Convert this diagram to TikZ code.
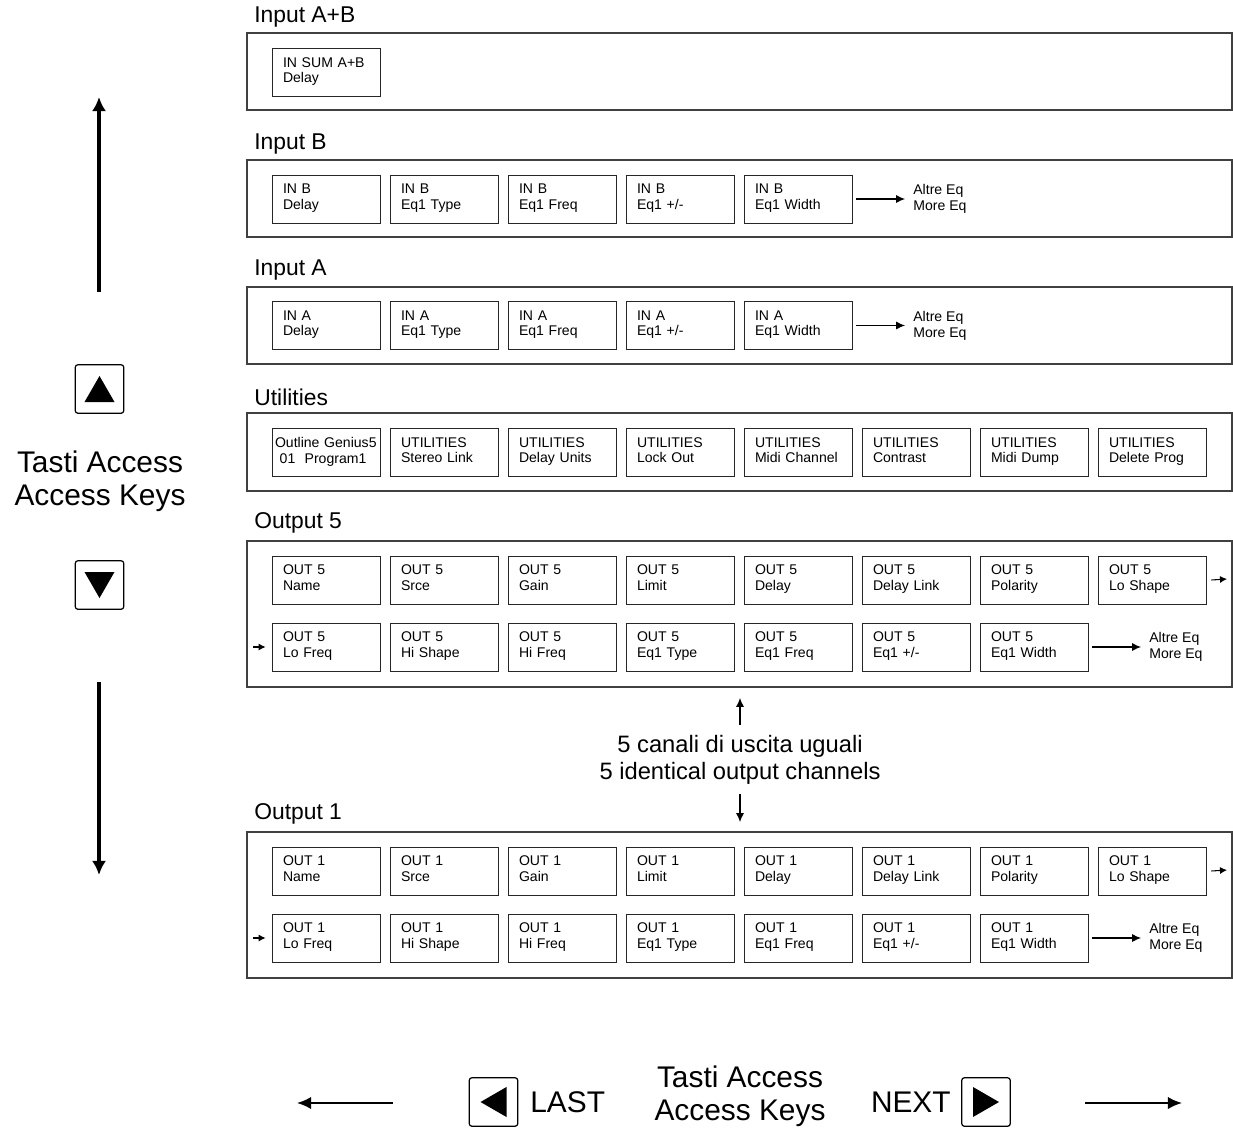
\documentclass[tikz,border=0pt]{standalone}
\usepackage{fontspec}
\setmainfont{Liberation Sans}
\usetikzlibrary{arrows.meta,calc}

\begin{document}
\begin{tikzpicture}[x=0.02cm,y=-0.02cm,
  panel/.style={draw=black!75,line width=0.6pt},
  title/.style={anchor=west,inner sep=0pt,font=\fontsize{13}{15}\selectfont},
  cell/.style={draw=black!85,line width=0.45pt,minimum width=2.16cm,minimum height=0.96cm,inner xsep=0.22cm,text width=1.72cm,align=left,font=\fontsize{8}{9}\selectfont},
  more/.style={anchor=west,align=left,inner sep=0pt,font=\fontsize{8}{9}\selectfont},
  big/.style={align=center,inner sep=0pt,font=\fontsize{17}{18.7}\selectfont},
  btnbox/.style={draw,rounded corners=1.5pt,line width=0.7pt,minimum size=0.97cm},
  arr/.style={-{Latex[length=5pt,width=4.5pt]},line width=0.6pt},
  tinyarr/.style={-{Latex[length=4pt,width=4pt]},line width=0.6pt},
  bigarr/.style={-{Latex[length=8pt,width=8pt]},line width=2pt},
  midarr/.style={-{Latex[length=8pt,width=7pt]},line width=1.1pt}]
\useasboundingbox (0,0) rectangle (1233,1128);

% input A+B
\node[title] (tab) at (254,17) {Input A+B};
\draw[panel] (247,33) rectangle (1232,110);
\node[cell] (insum) at (326,72.5) {IN SUM A+B\\Delay\strut};

% input B
\node[title] (tb) at (254,144) {Input B};
\draw[panel] (247,160) rectangle (1232,237);
\foreach \t [count=\i] in {Delay,Eq1 Type,Eq1 Freq,Eq1 +/-,Eq1 Width}
  \node[cell] (inb-\i) at ({326+118*(\i-1)},199) {IN B\\\t\strut};
\node[more] (inb-more) at (913,199) {Altre Eq\\More Eq};
\draw[arr] ([xshift=4*0.02cm]inb-5.east) -- ([xshift=-8*0.02cm]inb-more.west);

% input A
\node[title] (ta) at (254,270) {Input A};
\draw[panel] (247,287) rectangle (1232,364);
\foreach \t [count=\i] in {Delay,Eq1 Type,Eq1 Freq,Eq1 +/-,Eq1 Width}
  \node[cell] (ina-\i) at ({326+118*(\i-1)},325.5) {IN A\\\t\strut};
\node[more] (ina-more) at (913,325.5) {Altre Eq\\More Eq};
\draw[arr] ([xshift=4*0.02cm]ina-5.east) -- ([xshift=-8*0.02cm]ina-more.west);

% utilities
\node[title] (tu) at (254,397) {Utilities};
\draw[panel] (247,413) rectangle (1232,491);
\node[cell,inner xsep=0.06cm,text width=2.04cm] (ut-1) at (326,452.5) {Outline Genius5\\\ 01\ \ Program1\strut};
\foreach \t [count=\i from 2] in {Stereo Link,Delay Units,Lock Out,Midi Channel,Contrast,Midi Dump,Delete Prog}
  \node[cell] (ut-\i) at ({326+118*(\i-1)},452.5) {UTILITIES\\\t\strut};

% output 5 and output 1
\foreach \n/\top in {5/541,1/832}{
  \node[title] (to\n) at (254,\top-18) {Output \n};
  \draw[panel] (247,\top) rectangle (1232,\top+146);
  \foreach \t [count=\i] in {Name,Srce,Gain,Limit,Delay,Delay Link,Polarity,Lo Shape}
    \node[cell] (o\n a-\i) at ({326+118*(\i-1)},\top+39) {OUT \n\\\t\strut};
  \foreach \t [count=\i] in {Lo Freq,Hi Shape,Hi Freq,Eq1 Type,Eq1 Freq,Eq1 +/-,Eq1 Width}
    \node[cell] (o\n b-\i) at ({326+118*(\i-1)},\top+106) {OUT \n\\\t\strut};
  \node[more] (o\n-more) at (1149,\top+106) {Altre Eq\\More Eq};
  \draw[arr] ([xshift=4*0.02cm]o\n b-7.east) -- ([xshift=-8*0.02cm]o\n-more.west);
  \coordinate (o\n-out) at (1227,\top+38);
  \coordinate (o\n-in) at (253,\top+106);
  \draw[tinyarr] ([xshift=5*0.02cm]o\n a-8.east) -- (o\n-out);
  \draw[tinyarr] (o\n-in) -- ([xshift=-6*0.02cm]o\n b-1.west);
}

% five channels note
\node[align=center,font=\fontsize{13.5}{15.3}\selectfont,inner sep=0pt] (chan) at (740,759.5) {5 canali di uscita uguali\\5 identical output channels};
\coordinate (chan-up) at (740,698);
\coordinate (chan-dn) at (740,822);
\draw[arr] ([yshift=10*0.02cm]chan.north) -- (chan-up);
\draw[arr] ([yshift=-10*0.02cm]chan.south) -- (chan-dn);

% vertical access keys
\node[big] (vkeys) at (100,481.5) {Tasti Access\\Access Keys};
\node[btnbox] (upkey) at (99.5,389) {};
\node[btnbox] (dnkey) at (99.5,585) {};
\fill ($(upkey)+(-15,13)$) -- ($(upkey)+(15,13)$) -- ($(upkey)+(0,-13)$) -- cycle;
\fill ($(dnkey)+(-15,-13)$) -- ($(dnkey)+(15,-13)$) -- ($(dnkey)+(0,13)$) -- cycle;
\coordinate (vup-a) at (99,292);
\coordinate (vup-b) at (99,97);
\coordinate (vdn-a) at (99,682);
\coordinate (vdn-b) at (99,875);
\draw[bigarr] (vup-a) -- (vup-b);
\draw[bigarr] (vdn-a) -- (vdn-b);

% horizontal access keys
\node[big] (hkeys) at (740,1096) {Tasti Access\\Access Keys};
\node[btnbox] (lastkey) at (493.5,1102) {};
\node[btnbox] (nextkey) at (986,1102) {};
\fill ($(lastkey)+(13,-15)$) -- ($(lastkey)+(13,15)$) -- ($(lastkey)+(-13,0)$) -- cycle;
\fill ($(nextkey)+(-13,-15)$) -- ($(nextkey)+(-13,15)$) -- ($(nextkey)+(13,0)$) -- cycle;
\node[anchor=west,inner sep=0pt,font=\fontsize{17}{19}\selectfont] (last) at (530,1102) {LAST};
\node[anchor=east,inner sep=0pt,font=\fontsize{17}{19}\selectfont] (next) at (951,1102) {NEXT};
\coordinate (hl-a) at (393,1103);
\coordinate (hl-b) at (297,1103);
\coordinate (hr-a) at (1085,1103);
\coordinate (hr-b) at (1182,1103);
\draw[midarr] (hl-a) -- (hl-b);
\draw[midarr] (hr-a) -- (hr-b);
\end{tikzpicture}
\end{document}
